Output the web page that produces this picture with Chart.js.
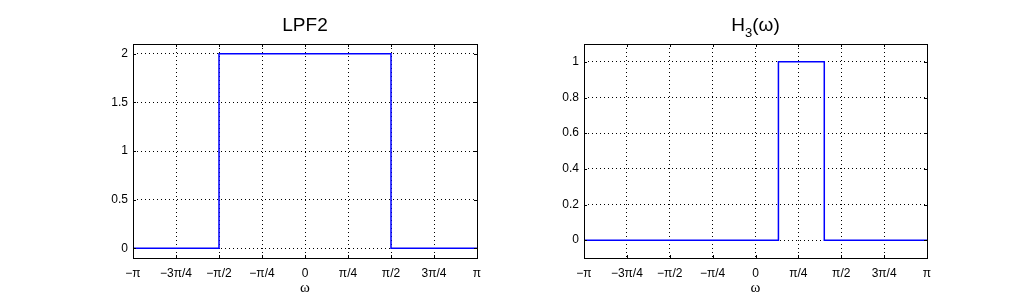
<!DOCTYPE html>
<html>
<head>
<meta charset="utf-8">
<script src="https://cdn.jsdelivr.net/npm/chart.js@4/dist/chart.umd.min.js"></script>
<style>
  html, body { margin: 0; padding: 0; background: #fff; }
  #wrap { position: relative; width: 1024px; height: 300px; }
  .box { position: absolute; top: 0; width: 512px; height: 300px; }
</style>
</head>
<body>
<div id="wrap">
  <div class="box" style="left:0"><canvas id="lpfChart"></canvas></div>
  <div class="box" style="left:512px"><canvas id="h3Chart"></canvas></div>
</div>
<script>
const PI = Math.PI;

// x ticks: multiples of pi/4
const xTickValues = [-PI, -3 * PI / 4, -PI / 2, -PI / 4, 0, PI / 4, PI / 2, 3 * PI / 4, PI];
const xTickLabels = ['\u2212\u03c0', '\u22123\u03c0/4', '\u2212\u03c0/2', '\u2212\u03c0/4', '0', '\u03c0/4', '\u03c0/2', '3\u03c0/4', '\u03c0'];

// LPF2 (step edges)
const lpfOmega = [-PI, -PI / 2, -PI / 2, PI / 2, PI / 2, PI];
const lpfGain = [0, 0, 2, 2, 0, 0];
const lpfYTicks = [0, 0.5, 1, 1.5, 2];

// H3(w) (band roughly 0.42 .. 1.26 rad)
const h3Omega = [-PI, 0.42, 0.42, 1.26, 1.26, PI];
const h3Gain = [0, 0, 1, 1, 0, 0];
const h3YTicks = [0, 0.2, 0.4, 0.6, 0.8, 1];

const tickFont = { family: 'Liberation Sans, Arial, sans-serif', size: 12 };

// frame + inward tick marks + title
const framePlugin = {
    id: 'frame',
    afterDraw(chart, args, opts) {
        const ctx = chart.ctx;
        const a = chart.chartArea;
        const xs = chart.scales.x, ys = chart.scales.y;
        ctx.save();
        ctx.strokeStyle = '#000';
        ctx.lineWidth = 1;
        ctx.setLineDash([]);
        ctx.strokeRect(Math.round(a.left) + 0.5, Math.round(a.top) + 0.5,
            Math.round(a.right - a.left), Math.round(a.bottom - a.top));
        ctx.beginPath();
        xs.ticks.forEach(t => {
            const px = Math.round(xs.getPixelForValue(t.value)) + 0.5;
            ctx.moveTo(px, a.bottom); ctx.lineTo(px, a.bottom - 3);
            ctx.moveTo(px, a.top); ctx.lineTo(px, a.top + 3);
        });
        ys.ticks.forEach(t => {
            const py = Math.round(ys.getPixelForValue(t.value)) + 0.5;
            ctx.moveTo(a.left, py); ctx.lineTo(a.left + 3, py);
            ctx.moveTo(a.right, py); ctx.lineTo(a.right - 3, py);
        });
        ctx.stroke();

        // title
        const cx = (a.left + a.right) / 2;
        const cy = 26;
        ctx.fillStyle = '#000';
        ctx.textBaseline = 'middle';
        ctx.font = '19px Liberation Sans, Arial, sans-serif';
        if (opts.sub) {
            const subFont = '13px Liberation Sans, Arial, sans-serif';
            const w1 = ctx.measureText(opts.main).width;
            const w3 = ctx.measureText(opts.tail).width;
            ctx.font = subFont;
            const w2 = ctx.measureText(opts.sub).width;
            let x = cx - (w1 + w2 + w3) / 2;
            ctx.textAlign = 'left';
            ctx.font = '19px Liberation Sans, Arial, sans-serif';
            ctx.fillText(opts.main, x, cy);
            x += w1;
            ctx.font = subFont;
            ctx.fillText(opts.sub, x, cy + 7);
            x += w2;
            ctx.font = '19px Liberation Sans, Arial, sans-serif';
            ctx.fillText(opts.tail, x, cy);
        } else {
            ctx.textAlign = 'center';
            ctx.fillText(opts.main, cx, cy);
        }
        ctx.restore();
    }
};

function makeChart(id, omega, gain, yTicks, yMin, yMax, leftW, rightPad, title) {
    const ctx = document.getElementById(id).getContext('2d');
    return new Chart(ctx, {
        type: 'line',
        data: {
            datasets: [{
                data: omega.map((w, i) => ({ x: w, y: gain[i] })),
                borderColor: '#0000ff',
                borderWidth: 1.5,
                pointRadius: 0,
                fill: false,
                tension: 0
            }]
        },
        options: {
            responsive: true,
            maintainAspectRatio: false,
            animation: false,
            layout: { padding: { left: 0, right: rightPad, top: 44, bottom: 0 } },
            plugins: {
                legend: { display: false },
                tooltip: { enabled: false },
                frame: title
            },
            scales: {
                x: {
                    type: 'linear',
                    min: -PI,
                    max: PI,
                    afterBuildTicks: s => { s.ticks = xTickValues.map(v => ({ value: v })); },
                    afterFit: s => { s.height = 42; },
                    grid: { color: '#000', lineWidth: 1, drawTicks: false },
                    border: { display: false, dash: [1, 3] },
                    ticks: {
                        color: '#000',
                        font: tickFont,
                        padding: 8,
                        maxRotation: 0,
                        autoSkip: false,
                        callback: (v, i) => xTickLabels[i]
                    },
                    title: {
                        display: true,
                        text: '\u03c9',
                        color: '#000',
                        font: { family: 'Liberation Serif, serif', size: 15 },
                        padding: { top: 0, bottom: 3 }
                    }
                },
                y: {
                    min: yMin,
                    max: yMax,
                    afterBuildTicks: s => { s.ticks = yTicks.map(v => ({ value: v })); },
                    afterFit: s => { s.width = leftW; },
                    grid: { color: '#000', lineWidth: 1, drawTicks: false },
                    border: { display: false, dash: [1, 3] },
                    ticks: {
                        color: '#000',
                        font: tickFont,
                        padding: 5,
                        callback: v => String(v)
                    }
                }
            }
        },
        plugins: [framePlugin]
    });
}

makeChart('lpfChart', lpfOmega, lpfGain, lpfYTicks, -0.1, 2.1, 133, 35, { main: 'LPF2' });
makeChart('h3Chart', h3Omega, h3Gain, h3YTicks, -0.1, 1.1, 72, 97, { main: 'H', sub: '3', tail: '(\u03c9)' });
</script>
</body>
</html>
